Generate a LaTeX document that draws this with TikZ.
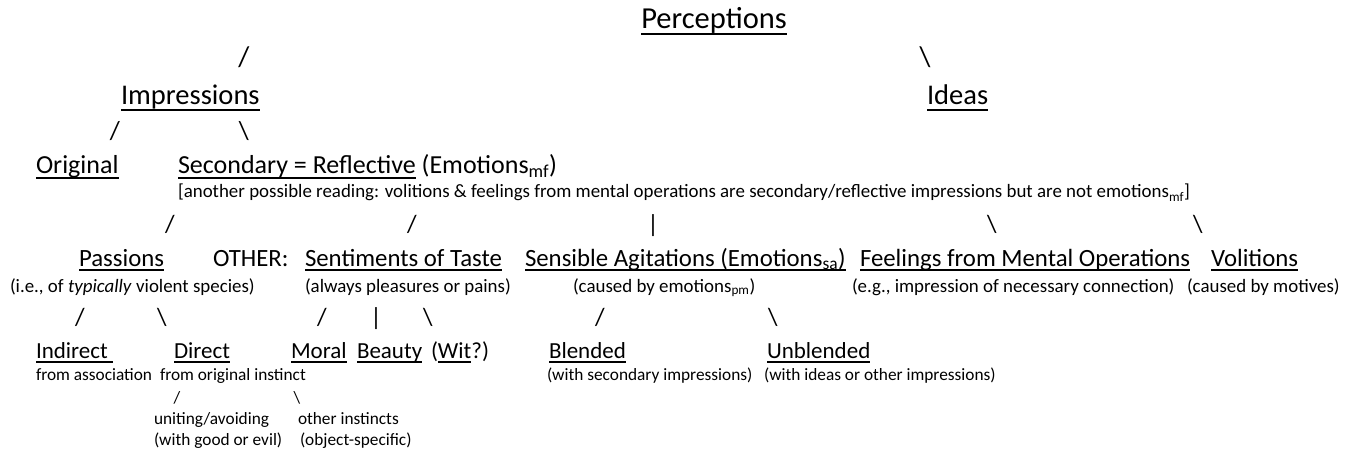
\documentclass[tikz,border=0pt]{standalone}
\usepackage{fontspec}
\setmainfont{Carlito}
\newcommand{\ul}[1]{\setbox0\hbox{#1}\rlap{\vrule height -0.13em depth 0.2em width \wd0}\box0\relax}
\begin{document}
\begin{tikzpicture}[x=1pt,y=-1pt,
  t/.style={anchor=base west,inner sep=0pt,outer sep=0pt},
  tc/.style={anchor=base,inner sep=0pt,outer sep=0pt},
  fP/.style={font=\fontsize{30.5}{33}\selectfont},
  fA/.style={font=\fontsize{28.5}{32}\selectfont},
  fB/.style={font=\fontsize{26}{30}\selectfont},
  fC/.style={font=\fontsize{24.8}{28}\selectfont},
  fD/.style={font=\fontsize{23}{26}\selectfont},
  fs/.style={font=\fontsize{18.9}{22}\selectfont},
  fss/.style={font=\fontsize{17.3}{20}\selectfont}]
\useasboundingbox (0,0) rectangle (1357,457);
% level 1
\node[tc,fP] (perc) at (714,29) {\ul{Perceptions}};
\node[tc,fA] (s1) at (244,67) {/};
\node[tc,fA] (s2) at (925,67) {\textbackslash};
% level 2
\node[t,fA] (impr) at (121,105) {\ul{Impressions}};
\node[t,fA] (ideas) at (927,105) {\ul{Ideas}};
\node[tc,fB] (s3) at (115,140) {/};
\node[tc,fB] (s4) at (244,140) {\textbackslash};
% level 3
\node[t,fB] (orig) at (36,174) {\ul{Original}};
\node[t,fB] (sec) at (178,174) {\ul{Secondary = Reflective} (Emotions\textsubscript{mf})};
\node[t,fs] (note) at (178,198) {[another possible reading: volitions \& feelings from mental operations are secondary/reflective impressions but are not emotions\textsubscript{mf}]};
\node[tc,fC] (s5) at (170,233) {/};
\node[tc,fC] (s6) at (412,233) {/};
\node[tc,fC] (s7) at (653,233) {|};
\node[tc,fC] (s8) at (992,233) {\textbackslash};
\node[tc,fC] (s9) at (1198,233) {\textbackslash};
% level 4
\node[t,fC] (pass) at (79,266) {\ul{Passions}};
\node[t,fC] (other) at (213,266) {OTHER:};
\node[t,fC] (sent) at (305,266) {\ul{Sentiments of Taste}};
\node[t,fC] (sens) at (525,266) {\ul{Sensible Agitations (Emotions\textsubscript{sa})}};
\node[t,fC] (feel) at (860,266) {\ul{Feelings from Mental Operations}};
\node[t,fC] (vol) at (1211,266) {\ul{Volitions}};
\node[t,fs] (passn) at (10,292) {(i.e., of \textit{typically} violent species)};
\node[t,fs] (sentn) at (305,292) {(always pleasures or pains)};
\node[t,fs] (sensn) at (573,292) {(caused by emotions\textsubscript{pm})};
\node[t,fs] (feeln) at (852,292) {(e.g., impression of necessary connection)};
\node[t,fs] (voln) at (1187,292) {(caused by motives)};
\node[tc,fC] (s10) at (80,325) {/};
\node[tc,fC] (s11) at (162,325) {\textbackslash};
\node[tc,fC] (s12) at (322,325) {/};
\node[tc,fC] (s13) at (376,325) {|};
\node[tc,fC] (s14) at (428,325) {\textbackslash};
\node[tc,fC] (s15) at (600,325) {/};
\node[tc,fC] (s16) at (773,325) {\textbackslash};
% level 5
\node[t,fD] (ind) at (36,358) {\ul{Indirect\ }};
\node[t,fD] (dir) at (174,358) {\ul{Direct}};
\node[t,fD] (mor) at (291,358) {\ul{Moral}};
\node[t,fD] (bea) at (357,358) {\ul{Beauty}};
\node[t,fD] (wit) at (431,358) {(\ul{Wit}?)};
\node[t,fD] (ble) at (549,358) {\ul{Blended}};
\node[t,fD] (unb) at (767,358) {\ul{Unblended}};
\node[t,fss] (indn) at (36,380) {from association};
\node[t,fss] (dirn) at (160,380) {from original instinct};
\node[t,fss] (blen) at (547,380) {(with secondary impressions)};
\node[t,fss] (unbn) at (764,380) {(with ideas or other impressions)};
\node[tc,fss] (s17) at (177,403) {/};
\node[tc,fss] (s18) at (297,403) {\textbackslash};
\node[t,fss] (uni) at (154,424) {uniting/avoiding};
\node[t,fss] (oth) at (298,424) {other instincts};
\node[t,fss] (unin) at (154,445) {(with good or evil)};
\node[t,fss] (othn) at (300,445) {(object-specific)};
\end{tikzpicture}
\end{document}
